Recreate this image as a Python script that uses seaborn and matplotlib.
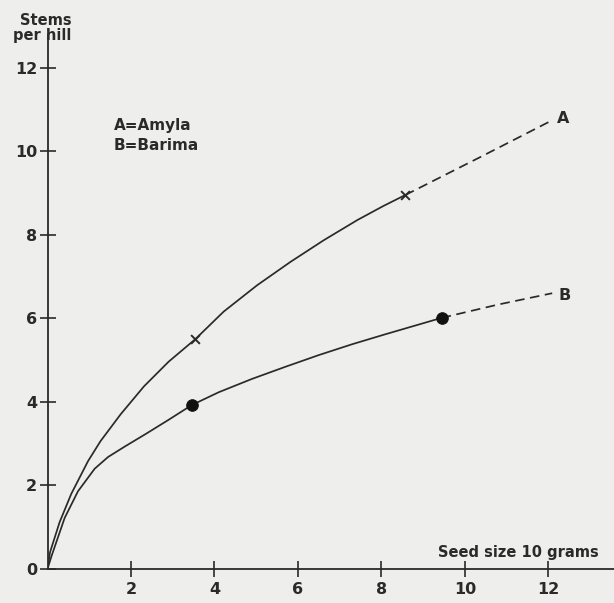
import matplotlib
matplotlib.use("Agg")
import matplotlib.pyplot as plt
import seaborn as sns

# ---- data ----
amyla_x = [0, 0.06, 0.29, 0.57, 0.97, 1.27, 1.75, 2.31, 2.90, 3.54, 4.22, 5.02, 5.82,
           6.62, 7.42, 8.05, 8.57]
amyla_y = [0, 0.40, 1.12, 1.80, 2.58, 3.06, 3.70, 4.37, 4.96, 5.50, 6.16, 6.79, 7.35,
           7.87, 8.35, 8.69, 8.95]
amyla_ext_x = [8.57, 10.37, 12.09]
amyla_ext_y = [8.95, 9.86, 10.74]
amyla_obs_x = [3.54, 8.57]
amyla_obs_y = [5.50, 8.95]

barima_x = [0, 0.10, 0.41, 0.73, 1.13, 1.45, 1.85, 2.35, 2.90, 3.45, 4.10, 4.90, 5.70,
            6.50, 7.30, 8.10, 8.89, 9.44]
barima_y = [0, 0.32, 1.22, 1.86, 2.40, 2.68, 2.93, 3.23, 3.57, 3.92, 4.23, 4.55, 4.84,
            5.12, 5.38, 5.62, 5.85, 6.01]
barima_ext_x = [9.44, 10.80, 12.09]
barima_ext_y = [6.01, 6.33, 6.60]
barima_obs_x = [3.45, 9.44]
barima_obs_y = [3.92, 6.01]

x_ticks = [2, 4, 6, 8, 10, 12]
y_ticks = [0, 2, 4, 6, 8, 10, 12]
legend_lines = ["A=Amyla", "B=Barima"]
curve_labels = ["A", "B"]

# ---- styling ----
sns.set_theme(style="ticks")
plt.rcParams['font.family'] = ['DejaVu Sans']
bg = "#eeeeec"
ink = "#2a2a2a"

fig = plt.figure(figsize=(6.14, 6.03), dpi=100, facecolor=bg)
W, H = 614, 603
ax = fig.add_axes([47.5 / W, 34 / H, 566.5 / W, 534 / H])
ax.set_facecolor(bg)

lw = 1.25
dash = (0, (5.5, 3.2))
sns.lineplot(x=amyla_x, y=amyla_y, ax=ax, color=ink, lw=lw, sort=False, estimator=None)
sns.lineplot(x=amyla_ext_x, y=amyla_ext_y, ax=ax, color=ink, lw=lw, sort=False,
             estimator=None, linestyle=dash)
sns.lineplot(x=barima_x, y=barima_y, ax=ax, color=ink, lw=lw, sort=False, estimator=None)
sns.lineplot(x=barima_ext_x, y=barima_ext_y, ax=ax, color=ink, lw=lw, sort=False,
             estimator=None, linestyle=dash)
sns.scatterplot(x=amyla_obs_x, y=amyla_obs_y, ax=ax, marker="x", color=ink, s=40,
                linewidth=1.4, zorder=5)
sns.scatterplot(x=barima_obs_x, y=barima_obs_y, ax=ax, marker="o", color="#111111",
                s=70, edgecolor="#111111", zorder=5)

ax.set_xlim(0, 13.57)
ax.set_ylim(0, 12.78)
ax.set_xticks(x_ticks)
ax.set_yticks(y_ticks)
ax.set_xticklabels([str(t) for t in x_ticks], fontsize=11.5, fontweight="bold", color=ink)
ax.set_yticklabels([str(t) for t in y_ticks], fontsize=11.5, fontweight="bold", color=ink)
ax.tick_params(axis="both", direction="inout", length=11, width=1.2, color=ink)
ax.tick_params(axis="y", pad=2)
ax.tick_params(axis="x", pad=4)

for s in ["top", "right"]:
    ax.spines[s].set_visible(False)
for s in ["left", "bottom"]:
    ax.spines[s].set_color(ink)
    ax.spines[s].set_linewidth(1.3)

ax.set_ylabel("Stems\nper hill", rotation=0, ha="right", va="bottom",
              fontsize=10.5, fontweight="bold", color=ink, linespacing=1.0)
ax.yaxis.set_label_coords(0.042, 0.985)
ax.set_xlabel("Seed size 10 grams", ha="center", va="center",
              fontsize=10.5, fontweight="bold", color=ink)
ax.xaxis.set_label_coords(0.832, 0.030)

ax.text(1.58, 10.62, legend_lines[0], fontsize=11, fontweight="bold", color=ink, va="center")
ax.text(1.58, 10.14, legend_lines[1], fontsize=11, fontweight="bold", color=ink, va="center")
ax.text(12.2, 10.77, curve_labels[0], fontsize=11.5, fontweight="bold", color=ink, va="center")
ax.text(12.25, 6.55, curve_labels[1], fontsize=11.5, fontweight="bold", color=ink, va="center")

fig.savefig("out.png", dpi=100, facecolor=bg)
